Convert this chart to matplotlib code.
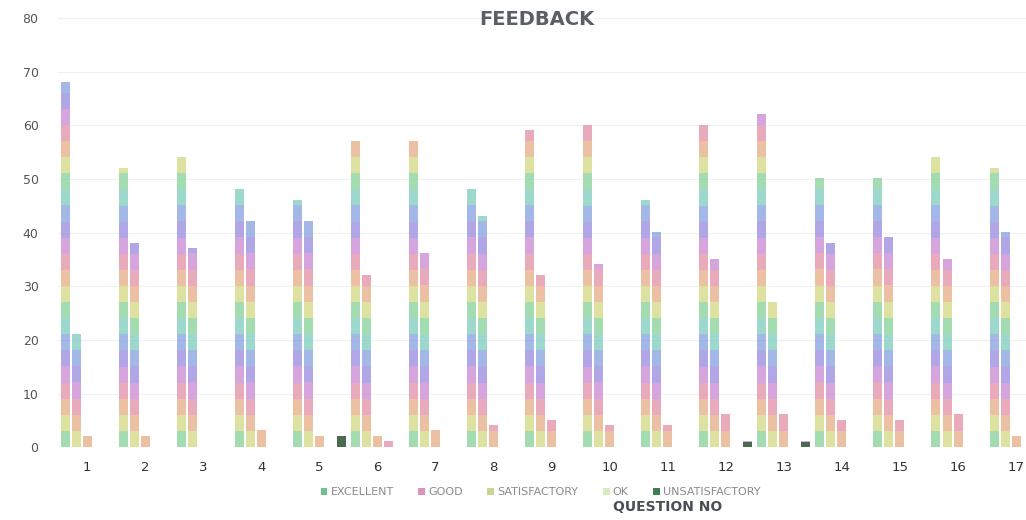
import numpy as np
import matplotlib
matplotlib.use('Agg')
import matplotlib.pyplot as plt
from matplotlib.colors import ListedColormap
from matplotlib.patches import Patch

questions = [str(i) for i in range(1, 18)]
excellent = [68, 52, 54, 48, 46, 57, 57, 48, 59, 60, 46, 60, 62, 50, 50, 54, 52]
good = [21, 38, 37, 42, 42, 32, 36, 43, 32, 34, 40, 35, 27, 38, 39, 35, 40]
satisfactory = [2, 2, 0, 3, 2, 2, 3, 4, 5, 4, 4, 6, 6, 5, 5, 6, 2]
ok = [0, 0, 0, 0, 0, 1, 0, 0, 0, 0, 0, 0, 0, 0, 0, 0, 0]
unsatisfactory = [0, 0, 0, 0, 2, 0, 0, 0, 0, 0, 0, 1, 1, 0, 0, 0, 0]

series = ['EXCELLENT', 'GOOD', 'SATISFACTORY', 'OK', 'UNSATISFACTORY']
values = [excellent, good, satisfactory, ok, unsatisfactory]
legend_colors = ['#6cc48a', '#dc93bb', '#cdd391', '#d6ecbd', '#3f7d4f']

# pastel rainbow bands like the printed bars
bands = ListedColormap(['#93d6a2', '#d8dd8f', '#e9b592', '#e59bb0',
                        '#d095d9', '#a396e2', '#93abe2', '#8ad2c3'])
band_h = 3

fig = plt.figure(figsize=(10.26, 5.2), dpi=100)
ax = fig.add_axes([0.0565, 0.14, 0.962, 0.825])

x = np.arange(1, 18)
step = 0.19
width = 0.15
for i, (name, vals) in enumerate(zip(series, values)):
    bars = ax.bar(x + (i - 2) * step, vals, width, color='none', edgecolor='none')
    for b in bars:
        h = b.get_height()
        if h <= 0:
            continue
        ys = np.arange(0, h, 0.1)
        idx = (ys // band_h + i) % 8
        ax.imshow(idx[:, None], cmap=bands, vmin=-0.5, vmax=7.5, origin='lower',
                  extent=[b.get_x(), b.get_x() + b.get_width(), 0, h],
                  aspect='auto', interpolation='nearest', alpha=0.85, zorder=2)
    if name == 'UNSATISFACTORY':
        for b in bars:
            if b.get_height() > 0:
                b.set_facecolor('#4a6b4f')
                b.set_zorder(3)

ax.set_xlim(0.5, 17.5)
ax.set_ylim(0, 80)
ax.set_xticks(x)
ax.set_xticklabels(questions)
ax.set_yticks(range(0, 81, 10))
ax.tick_params(axis='y', colors='#555555', labelsize=9, length=0, pad=14)
ax.tick_params(axis='x', colors='#333333', labelsize=9.5, length=0, pad=10)
ax.grid(axis='y', color='#f0f0f0', linewidth=0.8, zorder=0)
ax.set_axisbelow(True)
for s in ax.spines.values():
    s.set_visible(False)

fig.text(0.523, 0.963, 'FEEDBACK', ha='center', va='center', fontsize=14,
         fontweight='bold', color='#5a5f66')
fig.text(0.651, 0.025, 'QUESTION NO', ha='center', va='center', fontsize=10,
         fontweight='bold', color='#4a4f55')

handles = [Patch(facecolor=c, edgecolor='none') for c in legend_colors]
leg = fig.legend(handles, series, loc='center', bbox_to_anchor=(0.527, 0.053),
                 ncol=5, frameon=False, fontsize=8, handlelength=0.6,
                 handleheight=0.6, handletextpad=0.3, columnspacing=2.2)
for t in leg.get_texts():
    t.set_color('#8a8a8a')

fig.savefig('out.png', dpi=100)
